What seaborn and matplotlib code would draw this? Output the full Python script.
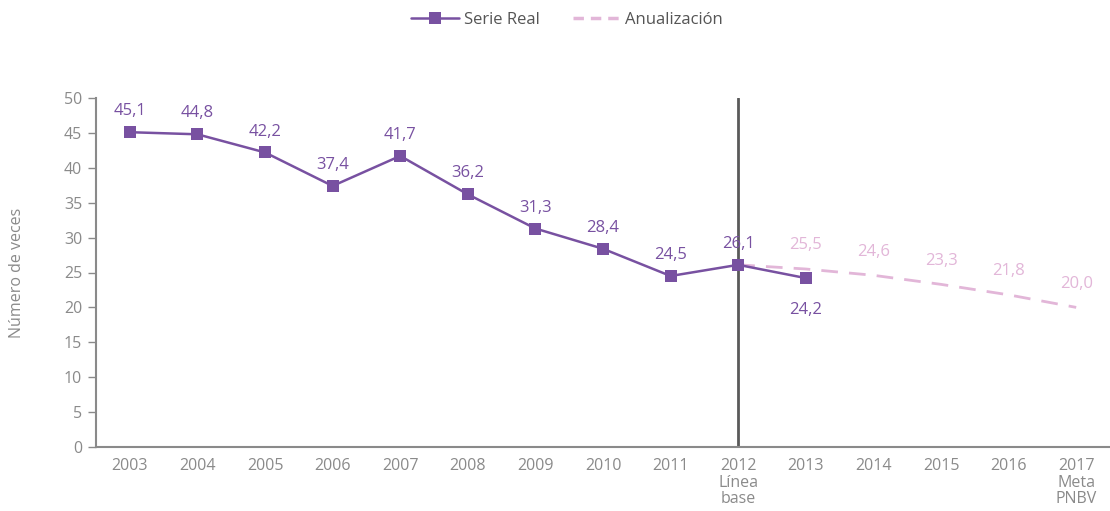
import matplotlib
matplotlib.use("Agg")
import matplotlib.pyplot as plt
from matplotlib.lines import Line2D
import seaborn as sns
import numpy as np
import pandas as pd

years = ["2003", "2004", "2005", "2006", "2007", "2008", "2009", "2010",
         "2011", "2012", "2013", "2014", "2015", "2016", "2017"]
tick_labels = ["2003", "2004", "2005", "2006", "2007", "2008", "2009", "2010",
               "2011", "2012\nLínea\nbase", "2013", "2014", "2015", "2016",
               "2017\nMeta\nPNBV"]
real_years = ["2003", "2004", "2005", "2006", "2007", "2008", "2009", "2010",
              "2011", "2012", "2013"]
real_values = [45.1, 44.8, 42.2, 37.4, 41.7, 36.2, 31.3, 28.4, 24.5, 26.1, 24.2]
proj_years = ["2012", "2013", "2014", "2015", "2016", "2017"]
proj_values = [26.1, 25.5, 24.6, 23.3, 21.8, 20.0]
baseline_year = "2012"

PURPLE = "#7851a1"
PINK = "#e2b6d8"
GRAY = "#8a8a8a"
DARK = "#5a5a5a"

sns.set_style("white")
plt.rcParams["font.family"] = ["Open Sans", "DejaVu Sans"]

pos = {y: i for i, y in enumerate(years)}
df_real = pd.DataFrame({"x": [pos[y] for y in real_years], "v": real_values})
df_proj = pd.DataFrame({"x": [pos[y] for y in proj_years], "v": proj_values})

fig = plt.figure(figsize=(11.10, 5.11), dpi=100)
ax = fig.add_axes([96 / 1110, 1 - 447 / 511, 1014 / 1110, 349 / 511])

sns.lineplot(data=df_proj, x="x", y="v", ax=ax, color=PINK, lw=2,
             dashes=False, linestyle=(0, (6, 4)), zorder=2)
sns.lineplot(data=df_real, x="x", y="v", ax=ax, color=PURPLE, lw=1.8,
             marker="s", markersize=9, markeredgewidth=0, zorder=3)

ax.axvline(pos[baseline_year], color=DARK, lw=2, zorder=1)

# value labels
for x, v in zip(df_real["x"], df_real["v"]):
    below = years[x] == "2013"
    ax.annotate(f"{v:.1f}".replace(".", ","), (x, v),
                xytext=(0, -23 if below else 15), textcoords="offset points",
                ha="center", va="center", color=PURPLE, fontsize=12)
for x, v in zip(df_proj["x"][1:], df_proj["v"][1:]):
    ax.annotate(f"{v:.1f}".replace(".", ","), (x, v),
                xytext=(0, 17), textcoords="offset points",
                ha="center", va="center", color=PINK, fontsize=12)

ax.set_xlim(-0.5, 14.18)
ax.set_ylim(0, 50)
ax.set_yticks(np.arange(0, 51, 5))
ax.set_xticks(range(len(years)))
ax.set_xticklabels(tick_labels, linespacing=1.05)
ax.set_xticks(np.arange(-0.5, len(years), 1), minor=True)
ax.tick_params(axis="x", which="major", length=0, pad=8, labelsize=11.5,
               labelcolor=GRAY)
ax.tick_params(axis="x", which="minor", length=5, color=GRAY, width=1)
ax.tick_params(axis="y", length=6, color=GRAY, width=1, labelsize=11.5,
               labelcolor=GRAY, left=True, pad=4)
ax.set_xlabel("")
ax.set_ylabel("Número de veces", color=GRAY, fontsize=11.5, labelpad=28)

for s in ["top", "right"]:
    ax.spines[s].set_visible(False)
for s in ["left", "bottom"]:
    ax.spines[s].set_color(GRAY)
    ax.spines[s].set_linewidth(1.5)

handles = [
    Line2D([], [], color=PURPLE, lw=1.8, marker="s", markersize=8,
           markeredgewidth=0),
    Line2D([], [], color=PINK, lw=2.5, linestyle=(0, (3, 2))),
]
fig.legend(handles, ["Serie Real", "Anualización"], loc="center",
           bbox_to_anchor=(567 / 1110, 1 - 20 / 511), ncol=2, frameon=False,
           fontsize=12, labelcolor="#555555", handlelength=2.9,
           columnspacing=2.0, handletextpad=0.25)

fig.savefig("out.png", dpi=100)
